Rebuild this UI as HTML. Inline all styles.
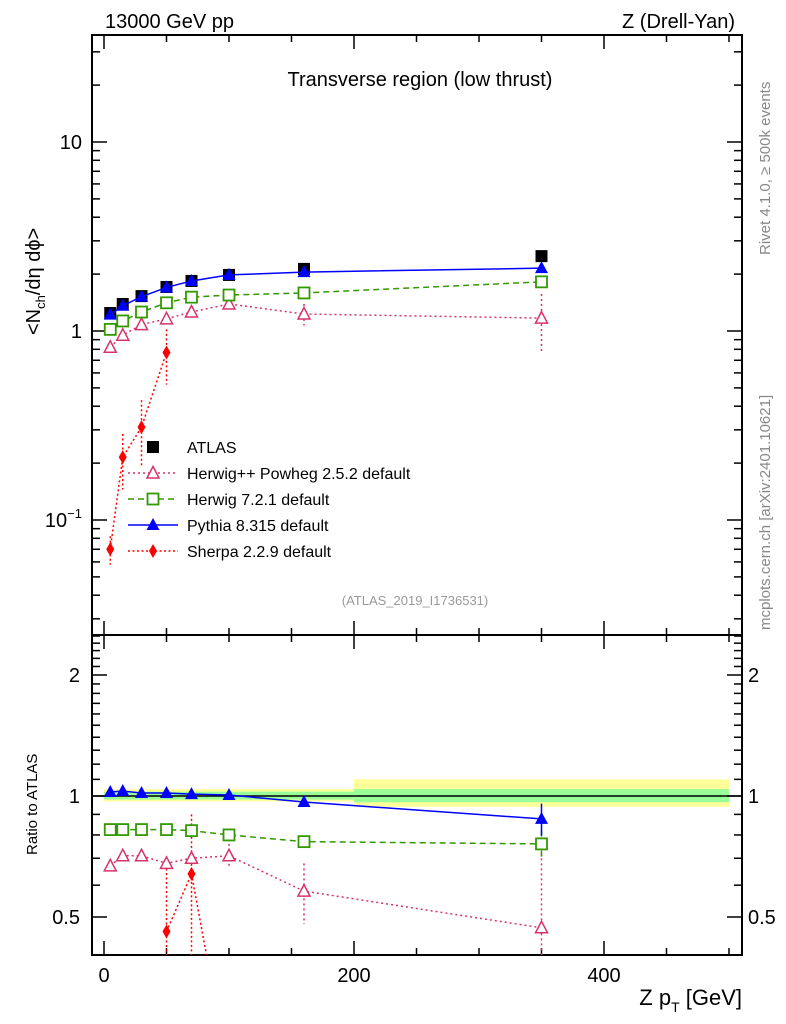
<!DOCTYPE html>
<html><head><meta charset="utf-8"><style>
html,body{margin:0;background:#fff;width:786px;height:1024px;overflow:hidden;}
svg{display:block;font-family:"Liberation Sans",sans-serif;overflow:hidden;}
</style></head><body>
<svg id="chart" width="786" height="1024" viewBox="0 0 786 1024">
<rect width="786" height="1024" fill="#fff"/>
<g id="bands"></g>
<g id="axes"></g>
<g id="series"></g>
<text x="105" y="28" font-size="20">13000 GeV pp</text>
<text x="735" y="28" font-size="20" text-anchor="end">Z (Drell-Yan)</text>
<text x="420" y="86" font-size="20" text-anchor="middle">Transverse region (low thrust)</text>
<text x="415" y="605" font-size="13" fill="#999" text-anchor="middle">(ATLAS_2019_I1736531)</text>
<text transform="translate(770,255) rotate(-90)" font-size="15" fill="#888">Rivet 4.1.0, ≥ 500k events</text>
<text transform="translate(770,630) rotate(-90)" font-size="15" fill="#888">mcplots.cern.ch [arXiv:2401.10621]</text>
<text transform="translate(40,335) rotate(-90)" font-size="20">&lt;N<tspan font-size="13" dy="5">ch</tspan><tspan dy="-5">/dη dϕ&gt;</tspan></text>
<text transform="translate(37,855) rotate(-90)" font-size="15">Ratio to ATLAS</text>
<text x="742" y="1005" font-size="22" text-anchor="end">Z p<tspan font-size="14" dy="7">T</tspan><tspan dy="-7"> [GeV]</tspan></text>
<g id="legend"></g>
</svg>
<script>
const xs=[5,15,30,50,70,100,160,350];
const atlas=[1.245,1.39,1.53,1.71,1.84,1.98,2.13,2.49];
const herwigpp=[0.82,0.95,1.08,1.16,1.26,1.39,1.23,1.17];
const herwig7=[1.02,1.13,1.26,1.41,1.51,1.55,1.59,1.82];
const pythia=[1.22,1.36,1.52,1.70,1.84,1.98,2.05,2.15];
const sherpaX=[5,15,30,50];
const sherpa=[0.070,0.215,0.31,0.77];
const sherpaErr=[0.012,0.07,0.12,0.25];
const herwigppErr=[0.02,0.03,0.03,0.03,0.04,0.06,0.16,0.4];
const rHerwigpp=[0.67,0.71,0.71,0.68,0.70,0.71,0.58,0.47];
const rHerwigppErr=[0.01,0.01,0.01,0.02,0.03,0.05,0.1,0.25];
const rHerwig7=[0.825,0.825,0.825,0.825,0.82,0.80,0.77,0.76];
const rHerwig7Err=[0.005,0.005,0.005,0.005,0.01,0.01,0.02,0.06];
const rPythia=[1.023,1.029,1.017,1.017,1.011,1.006,0.966,0.877];
const rPythiaErr=[0.005,0.005,0.005,0.005,0.005,0.005,0.01,0.08];
const rSherpaX=[50,70,100];
const rSherpa=[0.46,0.64,0.2];
const rSherpaErr=[0.2,0.26,0.1];
const bandEdges=[0,200,500];
const bandYellow=[[0.97,1.04],[0.94,1.10]];
const bandGreen=[[0.98,1.025],[0.965,1.04]];
const ns="http://www.w3.org/2000/svg";
const X=v=>104+1.25*v;
const Y=v=>331-189*Math.log10(v);
const R=v=>796-121*Math.log2(v);
const L=92,Rt=742,T=35,M=635,B=955;
function mk(p,tag,at){const e=document.createElementNS(ns,tag);for(const k in at)e.setAttribute(k,at[k]);p.appendChild(e);return e;}
const ax=document.getElementById('axes'),sg=document.getElementById('series'),bg=document.getElementById('bands'),lg=document.getElementById('legend');
for(let i=0;i<2;i++){
 let r=mk(bg,'rect',{x:X(bandEdges[i]),y:R(bandYellow[i][1]),width:X(bandEdges[i+1])-X(bandEdges[i]),height:R(bandYellow[i][0])-R(bandYellow[i][1]),fill:'#ffff99'});
 
 r=mk(bg,'rect',{x:X(bandEdges[i]),y:R(bandGreen[i][1]),width:X(bandEdges[i+1])-X(bandEdges[i]),height:R(bandGreen[i][0])-R(bandGreen[i][1]),fill:'#99ff99'});
 
}
let ln=mk(bg,'line',{x1:L,x2:Rt,y1:R(1),y2:R(1),stroke:'#000','stroke-width':1.5});

let f=mk(ax,'rect',{x:L,y:T,width:Rt-L,height:M-T,fill:'none',stroke:'#000','stroke-width':2});

f=mk(ax,'rect',{x:L,y:M,width:Rt-L,height:B-M,fill:'none',stroke:'#000','stroke-width':2});

for(let v=0;v<=500;v+=50){const big=v%200==0;const h=big?14:7;
 for(const [y0,d] of [[T,1],[M,-1],[M,1],[B,-1]]){const t=mk(ax,'line',{x1:X(v),x2:X(v),y1:y0,y2:y0+d*h,stroke:'#000','stroke-width':1.5});
 }
}
const xLabels=[0,200,400];
xLabels.forEach(v=>{const t=mk(ax,'text',{x:X(v),y:982,'font-size':20,'text-anchor':'middle'});t.textContent=v;
 });
for(let d=-2;d<=1;d++)for(let m=1;m<10;m++){const v=m*Math.pow(10,d);const y=Y(v);if(y<T||y>M)continue;const h=m==1?15:8;
 for(const [x0,s] of [[L,1],[Rt,-1]]){const t=mk(ax,'line',{x1:x0,x2:x0+s*h,y1:y,y2:y,stroke:'#000','stroke-width':1.5});
 }}
const yLabels=[["10",10],["1",1]];
yLabels.forEach(([s,v])=>{const t=mk(ax,'text',{x:82,y:Y(v)+7,'font-size':20,'text-anchor':'end'});t.textContent=s;
 });
let t=mk(ax,'text',{x:82,y:Y(0.1)+7,'font-size':20,'text-anchor':'end'});t.innerHTML='10<tspan font-size="13" dy="-9">−1</tspan>';

const rMinor=[0.4,0.5,0.6,0.7,0.8,0.9,1,1.1,1.2,1.3,1.4,1.5,1.6,1.7,1.8,1.9,2,2.1,2.2,2.3,2.4,2.5];
rMinor.forEach(v=>{const y=R(v);if(y<M||y>B)return;const big=(v==0.5||v==1||v==2);const h=big?15:8;
 for(const [x0,s] of [[L,1],[Rt,-1]]){const k=mk(ax,'line',{x1:x0,x2:x0+s*h,y1:y,y2:y,stroke:'#000','stroke-width':1.5});
 }});
const rLabels=["0.5","1","2"];
rLabels.forEach(s=>{for(const [x,a] of [[80,'end'],[748,'start']]){const k=mk(ax,'text',{x:x,y:R(+s)+7,'font-size':20,'text-anchor':a});k.textContent=s;
 }});
function marker(g,type,x,y,c){let e;
 if(type=='sq')e=mk(g,'rect',{x:x-6,y:y-6,width:12,height:12,fill:'#000'});
 else if(type=='osq')e=mk(g,'rect',{x:x-5.5,y:y-5.5,width:11,height:11,fill:'#fff',stroke:c,'stroke-width':1.8});
 else if(type=='tri')e=mk(g,'polygon',{points:`${x},${y-7} ${x-6.5},${y+5} ${x+6.5},${y+5}`,fill:c});
 else if(type=='otri')e=mk(g,'polygon',{points:`${x},${y-6.5} ${x-6},${y+5} ${x+6},${y+5}`,fill:'#fff',stroke:c,'stroke-width':1.5});
 else e=mk(g,'polygon',{points:`${x},${y-7} ${x-4},${y} ${x},${y+7} ${x+4},${y}`,fill:c});
 }
function errbar(g,x,y1,y2,c,dash){const e=mk(g,'line',{x1:x,x2:x,y1:y1,y2:y2,stroke:c,'stroke-width':1.5,'stroke-dasharray':dash});
 }
function series(parent,xv,yv,ev,fy,c,dash,type,name,line=true){const g=mk(parent,'g',{});
 if(line){const p=mk(g,'polyline',{points:xv.map((x,i)=>X(x)+','+fy(yv[i])).join(' '),fill:'none',stroke:c,'stroke-width':1.5,'stroke-dasharray':dash});
 }
 if(ev)xv.forEach((x,i)=>errbar(g,X(x),fy(yv[i]+ev[i]),fy(Math.max(yv[i]-ev[i],0.001)),c,dash||''));
 xv.forEach((x,i)=>marker(g,type,X(x),fy(yv[i]),c));}
const clipM=mk(sg,'clipPath',{id:'cm'});mk(clipM,'rect',{x:L,y:T,width:Rt-L,height:M-T});
const clipR=mk(sg,'clipPath',{id:'cr'});mk(clipR,'rect',{x:L,y:M,width:Rt-L,height:B-M});
const mg=mk(sg,'g',{'clip-path':'url(#cm)'});
series(mg,sherpaX,sherpa,sherpaErr,Y,'#ff0000','2,2.5','dia','sherpa-series');
series(mg,xs,herwigpp,herwigppErr,Y,'#d6336c','2,3','otri','herwigpp-series');
series(mg,xs,herwig7,null,Y,'#339900','6,4','osq','herwig7-series');
series(mg,xs,atlas,null,Y,'#000','','sq','atlas-series',false);
series(mg,xs,pythia,null,Y,'#0000ff','','tri','pythia-series');
const rg=mk(sg,'g',{'clip-path':'url(#cr)'});
series(rg,rSherpaX,rSherpa,rSherpaErr,R,'#ff0000','2,2.5','dia','sherpa-ratio');
series(rg,xs,rHerwigpp,rHerwigppErr,R,'#d6336c','2,3','otri','herwigpp-ratio');
series(rg,xs,rHerwig7,rHerwig7Err,R,'#339900','6,4','osq','herwig7-ratio');
series(rg,xs,rPythia,rPythiaErr,R,'#0000ff','','tri','pythia-ratio');
const legNames=['ATLAS','Herwig++ Powheg 2.5.2 default','Herwig 7.2.1 default','Pythia 8.315 default','Sherpa 2.2.9 default'];
const legStyle=[['sq','#000',''],['otri','#d6336c','2,3'],['osq','#339900','6,4'],['tri','#0000ff',''],['dia','#ff0000','2,2.5']];
legNames.forEach((n,i)=>{const y=447+26*i;const g=mk(lg,'g',{});
 if(i>0){const l=mk(g,'line',{x1:128,x2:178,y1:y,y2:y,stroke:legStyle[i][1],'stroke-width':1.5,'stroke-dasharray':legStyle[i][2]});}
 marker(g,legStyle[i][0],153,y,legStyle[i][1]);
 const tx=mk(g,'text',{x:187,y:y+6,'font-size':16});tx.textContent=n;});
</script>
</body></html>
